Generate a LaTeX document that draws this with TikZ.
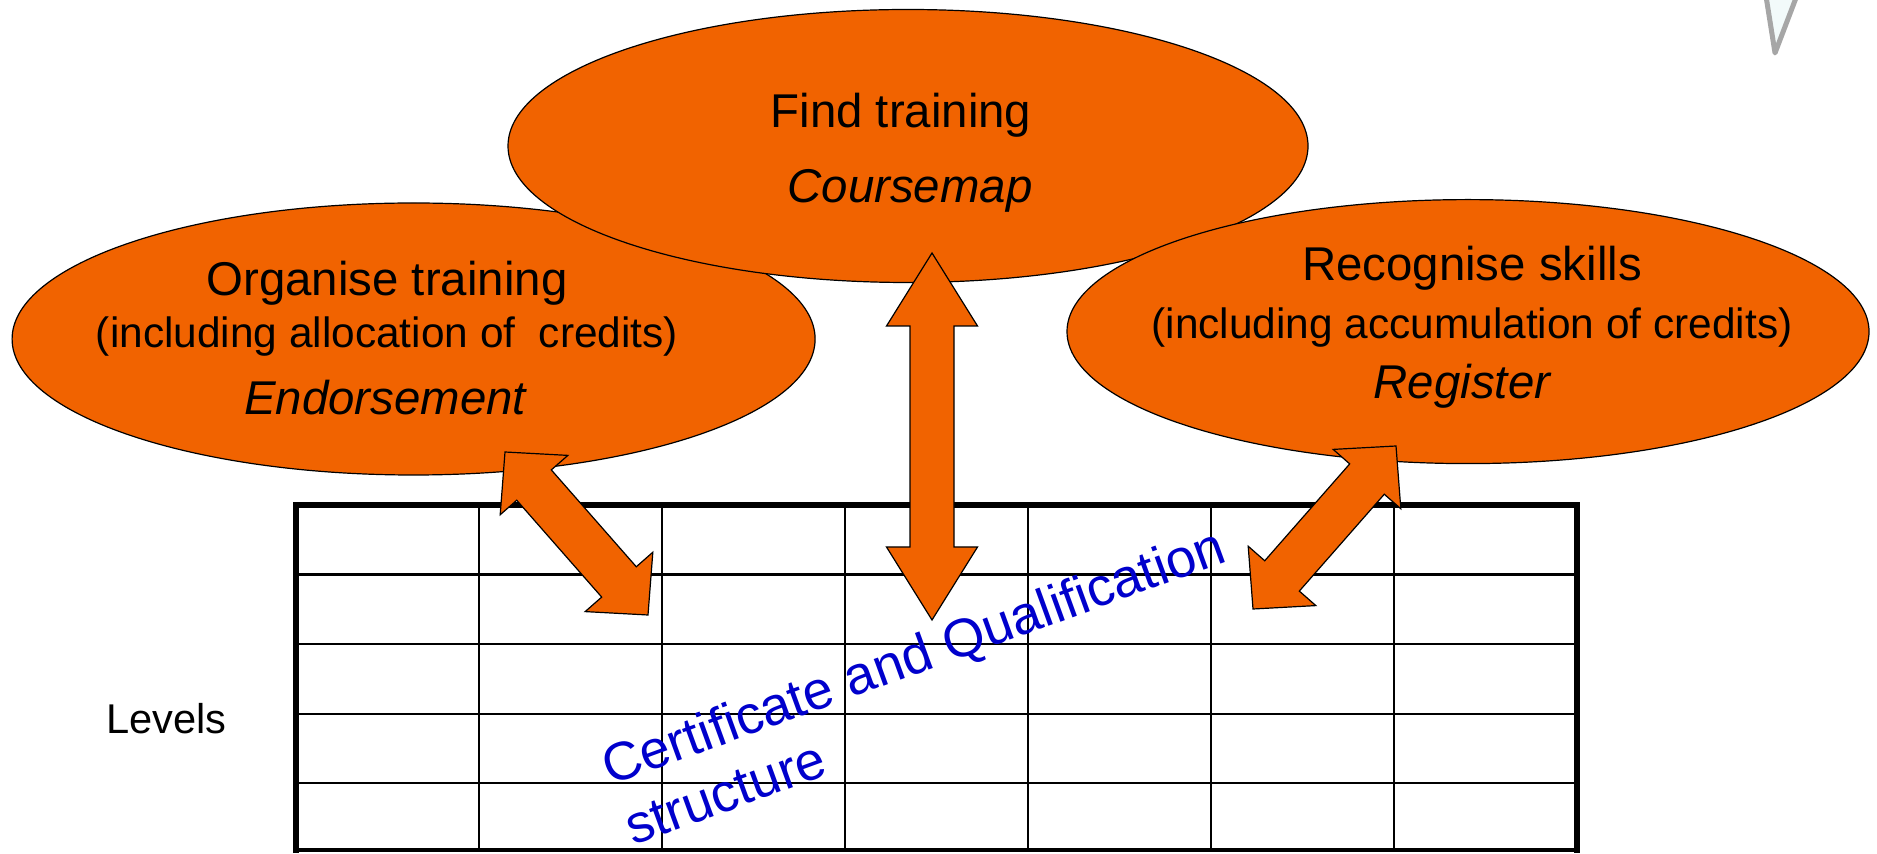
\documentclass[tikz,border=0pt]{standalone}
\usepackage{fontspec}
\setmainfont{Liberation Sans}
\usetikzlibrary{shapes.geometric,calc}
\definecolor{orng}{RGB}{241,99,0}
\definecolor{cqblue}{RGB}{0,0,204}
\definecolor{vgray}{RGB}{166,166,166}
\definecolor{vfill}{RGB}{242,250,250}
% double block arrow: #1 start, #2 end, #3 head length, #4 head half width, #5 shaft half width
\newcommand{\dblarrow}[5]{%
  \coordinate (hA) at ($(#1)!#3!(#2)$);
  \coordinate (hB) at ($(#2)!#3!(#1)$);
  \draw[arrowbody] (#1) -- ($(hA)!#4!90:(#2)$) -- ($(hA)!#5!90:(#2)$)
    -- ($(hB)!#5!-90:(#1)$) -- ($(hB)!#4!-90:(#1)$) -- (#2)
    -- ($(hB)!#4!90:(#1)$) -- ($(hB)!#5!90:(#1)$)
    -- ($(hA)!#5!-90:(#2)$) -- ($(hA)!#4!-90:(#2)$) -- cycle;
}
\begin{document}
\begin{tikzpicture}[x=0.5pt,y=-0.5pt,
  bubble/.style={ellipse, draw=black, line width=0.6pt, fill=orng, inner sep=0pt, outer sep=0pt},
  title/.style={font=\fontsize{23.7}{28}\selectfont, anchor=base, inner sep=0pt},
  sub/.style={font=\fontsize{21.2}{25}\selectfont, anchor=base, inner sep=0pt},
  tname/.style={font=\fontsize{23.7}{28}\selectfont\itshape, anchor=base, inner sep=0pt},
  arrowbody/.style={draw=black, line width=0.6pt, fill=orng, line join=miter},
  thin/.style={line width=1.2pt},
  thick border/.style={line width=3pt},
  cqtext/.style={font=\fontsize{26.9}{31}\selectfont, text=cqblue, anchor=base west, rotate=20, inner sep=0pt}
]
\useasboundingbox (0,0) rectangle (1877,854);

% corner mark
\draw[vgray, line width=2.5pt, fill=vfill, line join=round] (1765,-10) -- (1775,53) -- (1799,-10);

% table
\foreach \xx in {479,662,845,1028,1211,1394} \draw[thin] (\xx,505) -- (\xx,851);
\foreach \yy in {574.5,644,714,783} \draw[thin] (296,\yy) -- (1577,\yy);
\draw[line width=2pt] (296,850) -- (1577,850);
\draw[thick border] (296,853) -- (296,505) -- (1577,505) -- (1577,853);

% bubbles
\node[bubble, minimum width=401.5pt, minimum height=136pt] (org) at (413.6,339) {};
\node[bubble, minimum width=400pt, minimum height=136.5pt] (find) at (908,146) {};
\node[bubble, minimum width=401pt, minimum height=132pt] (rec) at (1468,331.6) {};

\node[title] (findt) at (901,128) {Find training};
\node[tname] (findn) at (910,203) {Coursemap};

\node[title] (orgt) at (387,296) {Organise training};
\node[sub] (orgs) at (387,348) {(including allocation of \ credits)};
\node[tname] (orgn) at (385,415) {Endorsement};

\node[title] (rect) at (1472,281) {Recognise skills};
\node[sub] (recs) at (1472,339) {(including accumulation of credits)};
\node[tname] (recn) at (1462,399) {Register};

% arrows
\coordinate (vA) at (932,253);
\coordinate (vB) at (932,620);
\coordinate (lA) at (505,452);
\coordinate (lB) at (648,615);
\coordinate (rA) at (1396,446);
\coordinate (rB) at (1253,609);
\dblarrow{vA}{vB}{36.5pt}{22.75pt}{11pt}
\dblarrow{lA}{lB}{22pt}{22.5pt}{11.5pt}
\dblarrow{rA}{rB}{22pt}{22.5pt}{11.5pt}

% labels
\node[font=\fontsize{20.8}{25}\selectfont, anchor=base west, inner sep=0pt] (lev) at (106,733) {Levels};
\node[cqtext] (cq1) at (610,786) {Certificate and Qualification};
\node[cqtext] (cq2) at (633,846) {structure};
\end{tikzpicture}
\end{document}
